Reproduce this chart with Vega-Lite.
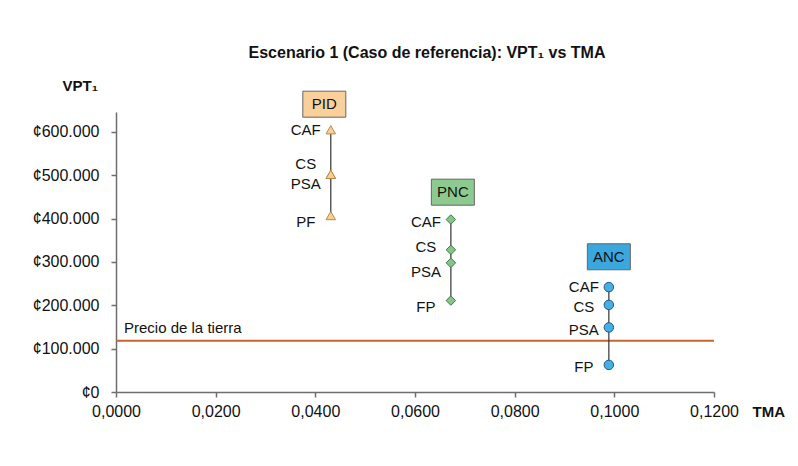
{
  "$schema": "https://vega.github.io/schema/vega-lite/v6.json",
  "autosize": {"type": "none"},
  "width": 598,
  "height": 280,
  "padding": {"left": 116, "top": 112, "right": 84, "bottom": 74},
  "background": "#ffffff",
  "title": {
    "text": "Escenario 1 (Caso de referencia): VPT₁ vs TMA",
    "font": "Liberation Sans",
    "fontSize": 16,
    "fontWeight": "bold",
    "color": "#111111",
    "anchor": "middle",
    "dx": 12,
    "offset": 17
  },
  "config": {
    "locale": {"number": {"decimal": ",", "thousands": ".", "grouping": [3], "currency": ["¢", ""]}},
    "view": {"stroke": null},
    "font": "Liberation Sans"
  },
  "datasets": {
    "puntos": [
      {"grupo": "PID", "punto": "CAF", "tma": 0.0431, "vpt": 605000, "vpt_etiqueta": 605000},
      {"grupo": "PID", "punto": "CS", "tma": 0.0431, "vpt": 502000, "vpt_etiqueta": 527000},
      {"grupo": "PID", "punto": "PSA", "tma": 0.0431, "vpt": 502000, "vpt_etiqueta": 479000},
      {"grupo": "PID", "punto": "PF", "tma": 0.0431, "vpt": 407000, "vpt_etiqueta": 393000},
      {"grupo": "PNC", "punto": "CAF", "tma": 0.0672, "vpt": 398000, "vpt_etiqueta": 392000},
      {"grupo": "PNC", "punto": "CS", "tma": 0.0672, "vpt": 328000, "vpt_etiqueta": 334000},
      {"grupo": "PNC", "punto": "PSA", "tma": 0.0672, "vpt": 298000, "vpt_etiqueta": 278000},
      {"grupo": "PNC", "punto": "FP", "tma": 0.0672, "vpt": 211000, "vpt_etiqueta": 196000},
      {"grupo": "ANC", "punto": "CAF", "tma": 0.0989, "vpt": 242000, "vpt_etiqueta": 242000},
      {"grupo": "ANC", "punto": "CS", "tma": 0.0989, "vpt": 201000, "vpt_etiqueta": 195000},
      {"grupo": "ANC", "punto": "PSA", "tma": 0.0989, "vpt": 149000, "vpt_etiqueta": 143500},
      {"grupo": "ANC", "punto": "FP", "tma": 0.0989, "vpt": 62500, "vpt_etiqueta": 58500}
    ],
    "cajas": [
      {"grupo": "PID", "tma": 0.0418, "vpt": 664000},
      {"grupo": "PNC", "tma": 0.0676, "vpt": 461000},
      {"grupo": "ANC", "tma": 0.0989, "vpt": 312000}
    ],
    "precio": [
      {"serie": "Precio de la tierra", "vpt": 118000}
    ]
  },
  "layer": [
    {
      "data": {"name": "precio"},
      "mark": {"type": "rule", "color": "#c8652c", "strokeWidth": 2},
      "encoding": {
        "y": {
          "field": "vpt", "type": "quantitative",
          "scale": {"domain": [0, 646000], "nice": false},
          "axis": {
            "values": [0, 100000, 200000, 300000, 400000, 500000, 600000],
            "format": "$,.0f",
            "grid": false,
            "domainColor": "#6e6e6e",
            "domainWidth": 1.5,
            "tickColor": "#6e6e6e",
            "tickSize": 5,
            "tickWidth": 1.5,
            "labelPadding": 12,
            "labelFont": "Liberation Sans",
            "labelFontSize": 16,
            "labelColor": "#111111",
            "title": "VPT₁",
            "titleFont": "Liberation Sans",
            "titleFontSize": 15,
            "titleFontWeight": "bold",
            "titleColor": "#111111",
            "titleAngle": 0,
            "titleAlign": "left",
            "titleBaseline": "middle",
            "titleX": -54,
            "titleY": -27
          }
        }
      }
    },
    {
      "data": {"name": "precio"},
      "mark": {"type": "text", "align": "left", "baseline": "middle", "dx": 8, "dy": -13, "fontSize": 15, "color": "#111111"},
      "encoding": {
        "x": {"datum": 0, "type": "quantitative"},
        "y": {"field": "vpt", "type": "quantitative"},
        "text": {"field": "serie"}
      }
    },
    {
      "data": {"name": "puntos"},
      "mark": {"type": "line", "color": "#333333", "strokeWidth": 1.2},
      "encoding": {
        "x": {
          "field": "tma", "type": "quantitative",
          "scale": {"domain": [0, 0.12], "nice": false},
          "axis": {
            "values": [0, 0.02, 0.04, 0.06, 0.08, 0.1, 0.12],
            "format": ".4f",
            "grid": false,
            "domainColor": "#6e6e6e",
            "domainWidth": 1.5,
            "tickColor": "#6e6e6e",
            "tickSize": 5,
            "tickWidth": 1.5,
            "labelPadding": 6,
            "labelFont": "Liberation Sans",
            "labelFontSize": 16,
            "labelColor": "#111111",
            "labelFlush": false,
            "title": "TMA",
            "titleFont": "Liberation Sans",
            "titleFontSize": 15,
            "titleFontWeight": "bold",
            "titleColor": "#111111",
            "titleAlign": "left",
            "titleBaseline": "middle",
            "titleX": 636,
            "titleY": 19
          }
        },
        "y": {"field": "vpt", "type": "quantitative"},
        "detail": {"field": "grupo"},
        "order": {"field": "vpt"}
      }
    },
    {
      "data": {"name": "puntos"},
      "mark": {"type": "point", "filled": true, "size": 90, "strokeWidth": 1, "opacity": 1},
      "encoding": {
        "x": {"field": "tma", "type": "quantitative"},
        "y": {"field": "vpt", "type": "quantitative"},
        "shape": {
          "field": "grupo", "type": "nominal",
          "scale": {"domain": ["PID", "PNC", "ANC"], "range": ["triangle-up", "diamond", "circle"]},
          "legend": null
        },
        "fill": {
          "field": "grupo", "type": "nominal",
          "scale": {"domain": ["PID", "PNC", "ANC"], "range": ["#f8cf97", "#86c48a", "#45aee3"]},
          "legend": null
        },
        "stroke": {
          "field": "grupo", "type": "nominal",
          "scale": {"domain": ["PID", "PNC", "ANC"], "range": ["#b98a45", "#3d7a44", "#1f5a84"]},
          "legend": null
        }
      }
    },
    {
      "data": {"name": "puntos"},
      "mark": {"type": "text", "align": "center", "baseline": "middle", "dx": -25, "fontSize": 15, "color": "#111111"},
      "encoding": {
        "x": {"field": "tma", "type": "quantitative"},
        "y": {"field": "vpt_etiqueta", "type": "quantitative"},
        "text": {"field": "punto"}
      }
    },
    {
      "data": {"name": "cajas"},
      "mark": {"type": "rect", "width": 43, "height": 26, "stroke": "#666666", "strokeWidth": 1},
      "encoding": {
        "x": {"field": "tma", "type": "quantitative"},
        "y": {"field": "vpt", "type": "quantitative"},
        "fill": {
          "field": "grupo", "type": "nominal",
          "scale": {"domain": ["PID", "PNC", "ANC"], "range": ["#f9d09a", "#8dca90", "#3aa7de"]},
          "legend": null
        }
      }
    },
    {
      "data": {"name": "cajas"},
      "mark": {"type": "text", "align": "center", "baseline": "middle", "fontSize": 15, "color": "#111111"},
      "encoding": {
        "x": {"field": "tma", "type": "quantitative"},
        "y": {"field": "vpt", "type": "quantitative"},
        "text": {"field": "grupo"}
      }
    }
  ],
  "resolve": {"scale": {"fill": "independent"}}
}
